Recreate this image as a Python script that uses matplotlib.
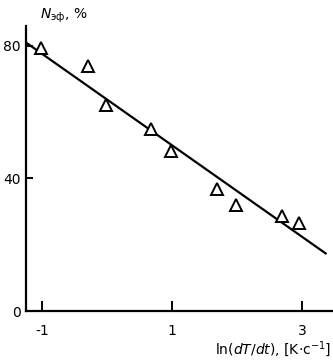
import matplotlib
matplotlib.use("Agg")
import matplotlib.pyplot as plt

x_pts = [-1.02, -0.30, -0.02, 0.67, 0.98, 1.70, 1.99, 2.70, 2.96]
y_pts = [79.2, 74.0, 62.0, 55.0, 48.3, 36.9, 32.0, 28.7, 26.6]
line_x = [-1.25, 3.38]
line_y = [81.0, 17.2]
xticks = [-1, 1, 3]
yticks = [0, 40, 80]

fig = plt.figure(figsize=(3.33, 3.6), dpi=100)
ax = fig.add_axes([0.078, 0.136, 0.922, 0.792])
ax.plot(line_x, line_y, color='black', lw=1.6, solid_capstyle='butt')
ax.plot(x_pts, y_pts, linestyle='none', marker='^', markersize=9,
        markerfacecolor='white', markeredgecolor='black', markeredgewidth=1.4)
ax.set_xlim(-1.25, 3.48)
ax.set_ylim(0, 86)
for s in ['top', 'right']:
    ax.spines[s].set_visible(False)
for s in ['left', 'bottom']:
    ax.spines[s].set_linewidth(1.6)
ax.set_xticks(xticks)
ax.set_xticklabels(['-1', '1', '3'])
ax.set_yticks(yticks)
ax.set_yticklabels(['0', '40', '80'])
ax.tick_params(axis='x', direction='in', length=7, width=1.4, labelsize=10, pad=9)
ax.tick_params(axis='y', direction='in', length=5, width=1.4, labelsize=10, pad=4)
fig.text(0.12, 0.955, r'$N_{\rm эф}$, %', fontsize=10, ha='left', va='center')
fig.text(0.995, 0.03, r'ln($dT/dt$), [K$\cdot$c$^{-1}$]', fontsize=10, ha='right', va='center')
fig.savefig('out.png', dpi=100)
